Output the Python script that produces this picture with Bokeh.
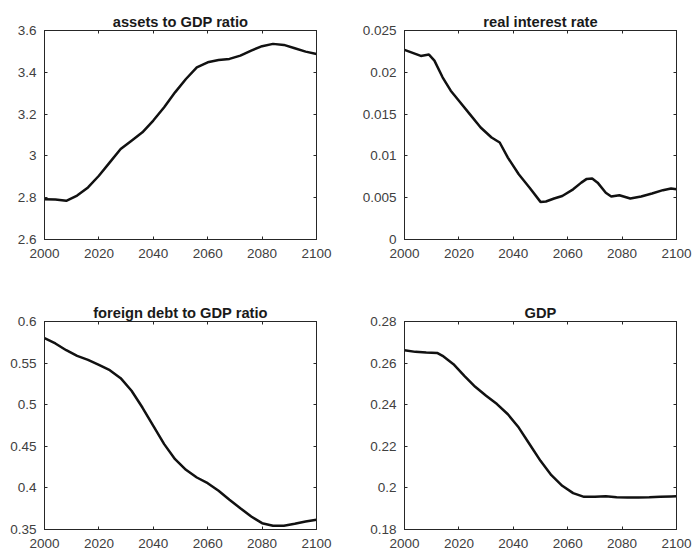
from bokeh.plotting import figure
from bokeh.layouts import column, row
from bokeh.models import Range1d, FixedTicker, LinearAxis
from bokeh.embed import file_html
from bokeh.resources import INLINE

# ---- data ----
years_assets = [2000, 2004, 2008, 2012, 2016, 2020, 2024, 2028, 2032, 2036, 2040, 2044, 2048,
                2052, 2056, 2060, 2064, 2068, 2072, 2076, 2080, 2084, 2088, 2092, 2096, 2100]
assets_gdp = [2.793, 2.791, 2.785, 2.81, 2.849, 2.905, 2.969, 3.033, 3.073, 3.113, 3.169, 3.233,
              3.304, 3.368, 3.424, 3.448, 3.459, 3.464, 3.48, 3.504, 3.525, 3.536, 3.531, 3.515,
              3.499, 3.488]

years_rate = [2000, 2004, 2006, 2009, 2011, 2014, 2017, 2020, 2024, 2028, 2032, 2035, 2038, 2042,
              2046, 2050, 2052, 2055, 2058, 2062, 2065, 2067, 2069, 2071, 2074, 2076, 2079, 2083,
              2087, 2091, 2095, 2098, 2100]
real_rate = [0.02268, 0.0222, 0.02196, 0.02212, 0.0214, 0.0194, 0.0178, 0.0166, 0.0150, 0.0134,
             0.0122, 0.0116, 0.0098, 0.0078, 0.0062, 0.0045, 0.00455, 0.0049, 0.0052, 0.0060,
             0.0068, 0.00725, 0.0073, 0.0068, 0.0056, 0.00515, 0.0053, 0.0049, 0.00515, 0.0055,
             0.0059, 0.0061, 0.0060]

years_debt = [2000, 2004, 2008, 2012, 2016, 2020, 2024, 2028, 2032, 2036, 2040, 2044, 2048,
              2052, 2056, 2060, 2064, 2068, 2072, 2076, 2080, 2084, 2088, 2092, 2096, 2100]
foreign_debt = [0.58, 0.5736, 0.5655, 0.5587, 0.5539, 0.5479, 0.5415, 0.5319, 0.5167, 0.4966,
                0.4746, 0.4526, 0.4345, 0.4217, 0.4125, 0.4057, 0.3965, 0.3857, 0.3756, 0.3656,
                0.3576, 0.3545, 0.3546, 0.3568, 0.3596, 0.3616]

years_gdp = [2000, 2004, 2008, 2012, 2014, 2018, 2022, 2026, 2030, 2034, 2038, 2042, 2046, 2050,
             2054, 2058, 2062, 2066, 2070, 2074, 2078, 2082, 2086, 2090, 2094, 2098, 2100]
gdp = [0.2662, 0.2654, 0.2651, 0.2649, 0.2635, 0.2595, 0.2539, 0.2486, 0.2443, 0.2403, 0.2354,
       0.2290, 0.2210, 0.2130, 0.2061, 0.2010, 0.1975, 0.1957, 0.1957, 0.1960, 0.1955, 0.1954,
       0.1954, 0.1955, 0.1957, 0.1959, 0.1960]

x_ticks = [2000, 2020, 2040, 2060, 2080, 2100]
x_tick_labels = ["2000", "2020", "2040", "2060", "2080", "2100"]

y_ticks_assets = [2.6, 2.8, 3.0, 3.2, 3.4, 3.6]
y_labels_assets = ["2.6", "2.8", "3", "3.2", "3.4", "3.6"]
y_ticks_rate = [0.0, 0.005, 0.01, 0.015, 0.02, 0.025]
y_labels_rate = ["0", "0.005", "0.01", "0.015", "0.02", "0.025"]
y_ticks_debt = [0.35, 0.4, 0.45, 0.5, 0.55, 0.6]
y_labels_debt = ["0.35", "0.4", "0.45", "0.5", "0.55", "0.6"]
y_ticks_gdp = [0.18, 0.2, 0.22, 0.24, 0.26, 0.28]
y_labels_gdp = ["0.18", "0.2", "0.22", "0.24", "0.26", "0.28"]

titles = ["assets to GDP ratio", "real interest rate", "foreign debt to GDP ratio", "GDP"]

FONT = "Liberation Sans"
AXC = "#262626"
LBL = "#404040"


def style_axis(ax, ticks, labels, show_labels=True, standoff=6):
    ax.ticker = FixedTicker(ticks=ticks)
    ax.major_label_overrides = {t: l for t, l in zip(ticks, labels)}
    ax.minor_tick_line_color = None
    ax.major_tick_in = 3
    ax.major_tick_out = 0
    ax.major_tick_line_color = AXC
    ax.axis_line_color = AXC
    ax.axis_line_width = 1
    ax.major_label_text_font = FONT
    ax.major_label_text_color = LBL
    if show_labels:
        ax.major_label_text_font_size = "13.5px"
        ax.major_label_standoff = standoff
    else:
        ax.major_label_text_font_size = "0px"
        ax.major_label_standoff = 0


def panel(title, xs, ys, yr, yt, yl, width, height, bl, br, bt, bb):
    p = figure(width=width, height=height, output_backend="svg", toolbar_location=None,
               x_range=Range1d(2000, 2100), y_range=Range1d(*yr),
               min_border_left=bl, min_border_right=br, min_border_top=bt, min_border_bottom=bb)
    p.title.text = title
    p.title.text_font = FONT
    p.title.text_font_size = "14.7px"
    p.title.text_font_style = "bold"
    p.title.text_color = "#1a1a1a"
    p.title.align = "center"
    p.title.standoff = 2
    p.xgrid.visible = False
    p.ygrid.visible = False
    p.outline_line_color = AXC
    p.outline_line_width = 1
    p.background_fill_color = "white"
    p.border_fill_color = "white"
    style_axis(p.xaxis[0], x_ticks, x_tick_labels, True, 9)
    style_axis(p.yaxis[0], yt, yl, True, 8)
    top = LinearAxis()
    style_axis(top, x_ticks, ["" for _ in x_ticks], False)
    p.add_layout(top, "above")
    right = LinearAxis()
    style_axis(right, yt, ["" for _ in yt], False)
    p.add_layout(right, "right")
    p.line(xs, ys, line_color="#111111", line_width=2.5)
    return p


p1 = panel(titles[0], years_assets, assets_gdp, (2.6, 3.6), y_ticks_assets, y_labels_assets,
           347, 280, 44, 31, 30, 41)
p2 = panel(titles[1], years_rate, real_rate, (0, 0.025), y_ticks_rate, y_labels_rate,
           347, 280, 57, 18, 30, 41)
p3 = panel(titles[2], years_debt, foreign_debt, (0.35, 0.6), y_ticks_debt, y_labels_debt,
           347, 277, 44, 31, 41, 28)
p4 = panel(titles[3], years_gdp, gdp, (0.18, 0.28), y_ticks_gdp, y_labels_gdp,
           347, 277, 57, 18, 41, 28)

layout = column(row(p1, p2), row(p3, p4))
open("out.html", "w").write(file_html(layout, INLINE))
